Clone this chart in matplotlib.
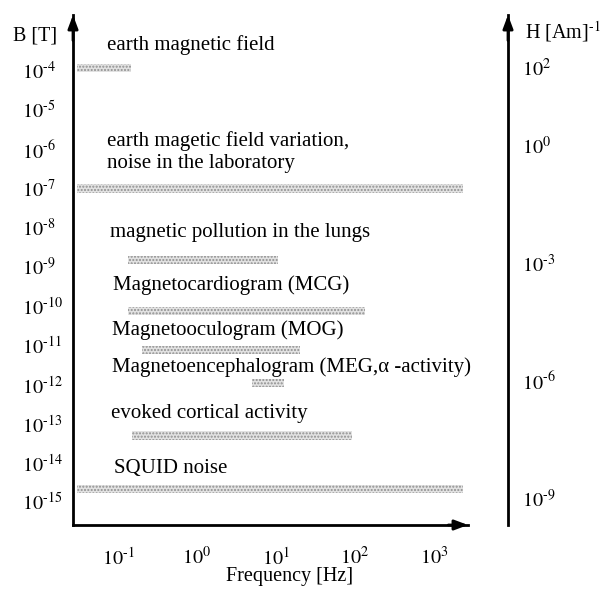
import numpy as np
import matplotlib
matplotlib.use("Agg")
import matplotlib.pyplot as plt

plt.rcParams['font.family'] = ['Liberation Serif', 'DejaVu Serif']
plt.rcParams['mathtext.fontset'] = 'stix'
plt.rcParams['hatch.linewidth'] = 1.0

# ---- data ----
sources = ["earth magnetic field", "laboratory noise", "lungs", "MCG", "MOG",
           "MEG", "evoked", "SQUID noise"]
f_min = [0.03, 0.03, 0.135, 0.135, 0.2, 5.0, 0.15, 0.03]
f_max = [0.145, 2300, 10.7, 135, 20, 12.6, 91, 2300]
b_level = [1.2e-4, 1.0e-7, 1.5e-9, 7.6e-11, 7.6e-12, 1.1e-12, 5.1e-14, 2.2e-15]

HY = "\u2010"
b_ticks = [1e-4, 1e-5, 1e-6, 1e-7, 1e-8, 1e-9, 1e-10, 1e-11, 1e-12, 1e-13, 1e-14, 1e-15]
b_ticklabels = ["$10^{%s%d}$" % (HY, k) for k in range(4, 16)]
f_ticks = [1e-1, 1e0, 1e1, 1e2, 1e3]
f_ticklabels = ["$10^{%s1}$" % HY, r"$10^{0}$", r"$10^{1}$", r"$10^{2}$", r"$10^{3}$"]
h_ticks = [1e2, 1e0, 1e-3, 1e-6, 1e-9]
h_ticklabels = [r"$10^{2}$", r"$10^{0}$", "$10^{%s3}$" % HY, "$10^{%s6}$" % HY,
                "$10^{%s9}$" % HY]

annotations = ["earth magnetic field",
               "earth magetic field variation,",
               "noise in the laboratory",
               "magnetic pollution in the lungs",
               "Magnetocardiogram (MCG)",
               "Magnetooculogram (MOG)",
               "Magnetoencephalogram (MEG,\u03b1 -activity)",
               "evoked cortical activity",
               "SQUID noise"]
annot_px = [(107, 50), (107, 146), (107, 168), (110, 237), (113, 290),
            (112, 335), (112, 372), (111, 418), (114, 473)]

MU0 = 4e-7 * np.pi

# ---- figure ----
W, H = 610, 591
fig = plt.figure(figsize=(W / 100, H / 100), dpi=100)
ax = fig.add_axes([73 / W, 1 - 525 / H, (468 - 73) / W, (525 - 15) / H])
ax.set_xscale('log')
ax.set_yscale('log')
ax.set_xlim(10 ** -1.5696, 10 ** 3.430)
ax.set_ylim(10 ** -15.58, 10 ** -2.571)

half = 10 ** 0.11
lo = np.array(b_level) / half
hi = np.array(b_level) * half
ax.barh(lo, np.array(f_max) - np.array(f_min), height=hi - lo, left=f_min,
        align='edge', facecolor='#e2e2e2', edgecolor='#8f8f8f', hatch='.....',
        linewidth=0)

for s in ['top', 'right']:
    ax.spines[s].set_visible(False)
for s in ['left', 'bottom']:
    ax.spines[s].set_linewidth(2)

ax.set_yticks(b_ticks)
ax.set_yticklabels(b_ticklabels)
ax.yaxis.set_minor_locator(matplotlib.ticker.NullLocator())
ax.tick_params(axis='y', length=0, pad=36.7, labelsize=14.5)
for lab in ax.get_yticklabels():
    lab.set_horizontalalignment('left')

ax.set_xticks(f_ticks)
ax.set_xticklabels(f_ticklabels)
ax.xaxis.set_minor_locator(matplotlib.ticker.NullLocator())
ax.tick_params(axis='x', length=0, pad=16, labelsize=14.5)

# arrows on axes
arrow = dict(arrowstyle='-|>,head_width=0.3,head_length=0.8', color='black', lw=2,
             shrinkA=0, shrinkB=0)
ax.annotate('', xy=(0, 1), xytext=(0, 0.95), xycoords='axes fraction', arrowprops=arrow,
            annotation_clip=False)
ax.annotate('', xy=(1, 0), xytext=(0.95, 0), xycoords='axes fraction', arrowprops=arrow,
            annotation_clip=False)

# secondary H axis
loc = (508 - 73) / (468 - 73)
sec = ax.secondary_yaxis(loc, functions=(lambda b: b / MU0, lambda h: h * MU0))
sec.set_yticks(h_ticks)
sec.set_yticklabels(h_ticklabels)
sec.yaxis.set_minor_locator(matplotlib.ticker.NullLocator())
sec.tick_params(axis='y', length=0, pad=10, labelsize=14.5)
sec.spines['right'].set_linewidth(2)
ax.annotate('', xy=(loc, 1), xytext=(loc, 0.95), xycoords='axes fraction', arrowprops=arrow,
            annotation_clip=False)

# axis labels
fig.text(13 / W, 1 - 36 / H, "B [T]", fontsize=14.5, ha='left', va='center')
fig.text(525 / W, 1 - 32 / H, "H [Am]$^{%s1}$" % HY, fontsize=14.5, ha='left', va='center')
fig.text(290 / W, 1 - 577 / H, "Frequency [Hz]", fontsize=14.5, ha='center', va='center')

for txt, (px, py) in zip(annotations, annot_px):
    fig.text(px / W, 1 - py / H, txt, fontsize=15, ha='left', va='baseline')

fig.savefig("out.png", dpi=100)
